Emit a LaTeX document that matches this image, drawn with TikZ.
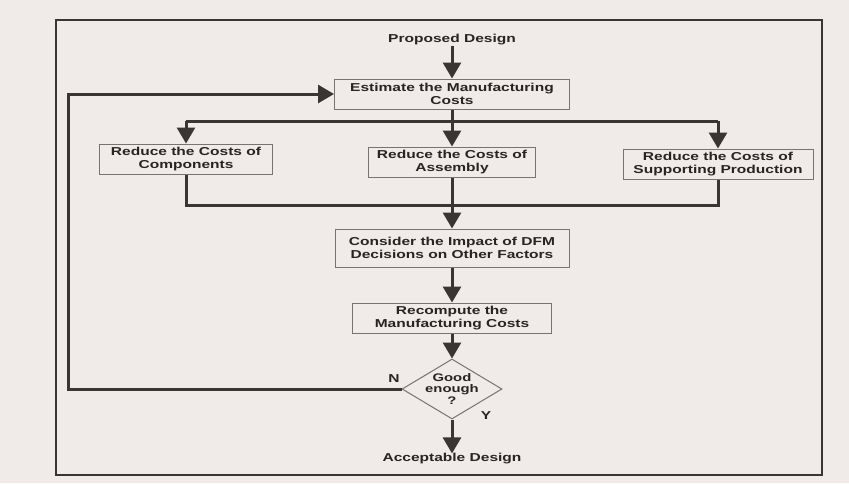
\documentclass[tikz,border=0pt]{standalone}
\usepackage{fontspec}
\setmainfont{Liberation Sans}[FakeStretch=1.35]
\usetikzlibrary{arrows.meta,shapes.geometric}
\definecolor{paper}{RGB}{240,235,233}
\definecolor{ink}{RGB}{58,53,53}
\definecolor{textink}{RGB}{40,36,36}
\definecolor{boxline}{RGB}{120,115,115}
\tikzset{
  flowbox/.style={draw=boxline,line width=1pt,fill=paper,align=center,inner sep=0pt,
    font=\fontsize{11.5}{13}\selectfont\bfseries,text=textink},
  plaintext/.style={align=center,inner sep=0pt,font=\fontsize{11.5}{13}\selectfont\bfseries,text=textink},
  conn/.style={draw=ink,line width=3pt},
  arr/.style={conn,-{Triangle[width=18pt,length=16pt]}},
}
\begin{document}
\begin{tikzpicture}[x=1pt,y=-1pt]
\useasboundingbox (0,0) rectangle (849,483);
\fill[paper] (0,0) rectangle (849,483);
\draw[ink,line width=2pt] (56,20) rectangle (822,475);

\node[plaintext] (prop) at (452,40) {Proposed Design};
\node[flowbox,minimum width=235pt,minimum height=30pt] (est) at (452,94) {Estimate the Manufacturing\\Costs};
\node[flowbox,minimum width=173pt,minimum height=30pt] (comp) at (186,159) {Reduce the Costs of\\Components};
\node[flowbox,minimum width=167pt,minimum height=30pt] (asm) at (452,162) {Reduce the Costs of\\Assembly};
\node[flowbox,minimum width=190pt,minimum height=30pt] (supp) at (718,164) {Reduce the Costs of\\Supporting Production};
\node[flowbox,minimum width=234pt,minimum height=38pt] (cons) at (452,248) {Consider the Impact of DFM\\Decisions on Other Factors};
\node[flowbox,minimum width=199pt,minimum height=30pt] (recomp) at (452,318) {Recompute the\\Manufacturing Costs};
\node[diamond,flowbox,minimum width=100pt,minimum height=60pt,inner xsep=-10pt,inner ysep=-8pt,
  font=\fontsize{11}{11.5}\selectfont\bfseries] (good) at (452,389) {Good\\enough\\?};
\node[plaintext] (acc) at (452,459) {Acceptable Design};
\node[plaintext] (nlab) at (394,379) {N};
\node[plaintext] (ylab) at (486,416) {Y};

\coordinate (split) at (452,121);
\coordinate (mergeL) at (186,205);
\coordinate (mergeR) at (718,205);
\coordinate (loopBL) at (68,389);

\draw[arr] (prop) -- (est);
\draw[arr] (est) -- (asm);
\draw[arr] (split -| comp) -- (comp);
\draw[arr] (split -| supp) -- (supp);
\draw[conn] (split -| comp) -- (split -| supp);
\draw[conn] (comp.south) -- (mergeL) -- (mergeR) -- (supp.south);
\draw[arr] (asm) -- (cons);
\draw[arr] (cons) -- (recomp);
\draw[arr] (recomp) -- (good);
\draw[arr] (good) -- (acc);
\draw[arr] (good.west) -- (loopBL) |- (est.west);
\end{tikzpicture}
\end{document}
